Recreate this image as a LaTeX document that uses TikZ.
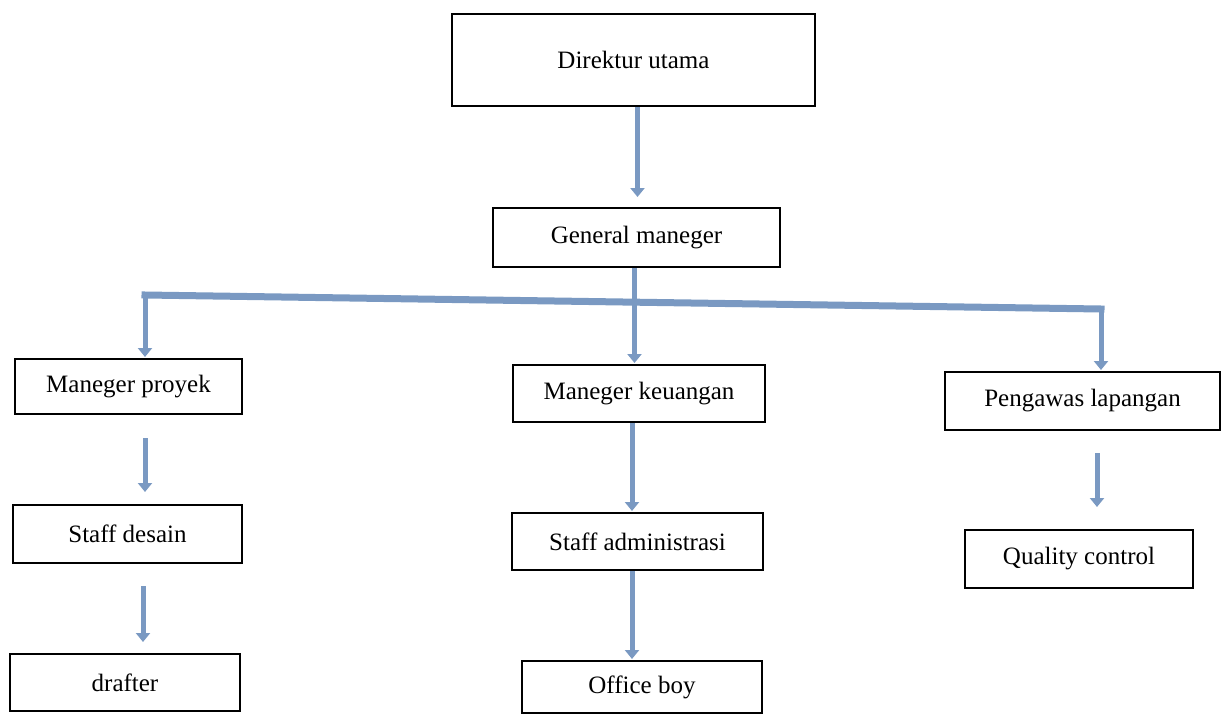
\documentclass[tikz,border=0pt]{standalone}
\usepackage{fontspec}
\setmainfont{Liberation Serif}
\usetikzlibrary{arrows.meta}
\definecolor{arrblue}{RGB}{122,153,194}
\begin{document}
\begin{tikzpicture}[x=1pt,y=-1pt,
  box/.style={draw=black, line width=2pt, fill=white, inner sep=0pt,
    font=\fontsize{25}{30}\selectfont},
  arr/.style={draw=arrblue, line width=5pt, -{Triangle[width=14pt,length=9pt]}},
  bar/.style={draw=arrblue, line width=7pt, line cap=rect}]
\useasboundingbox (0,0) rectangle (1227,715);

\node[box, minimum width=363pt, minimum height=92pt] (dir) at (633.5,60) {Direktur utama};
\node[box, minimum width=287pt, minimum height=59pt] (gm) at (636.5,237.5) {General maneger};
\node[box, minimum width=227pt, minimum height=55pt] (proyek) at (128.5,386.5) {Maneger proyek};
\node[box, minimum width=252pt, minimum height=57pt] (keu) at (639,393.5) {Maneger keuangan};
\node[box, minimum width=275pt, minimum height=58pt] (peng) at (1082.5,401) {Pengawas lapangan};
\node[box, minimum width=229pt, minimum height=58pt] (desain) at (127.5,534) {Staff desain};
\node[box, minimum width=251pt, minimum height=57pt] (admin) at (637.5,541.5) {Staff administrasi};
\node[box, minimum width=228pt, minimum height=58pt] (qc) at (1079,559) {Quality control};
\node[box, minimum width=230pt, minimum height=57pt] (drafter) at (125,682.5) {drafter};
\node[box, minimum width=240pt, minimum height=52pt] (office) at (642,687) {Office boy};

\coordinate (barL) at (145,295);
\coordinate (barR) at (1101,309);

% top chain
\draw[arr, shorten >=10pt] ([xshift=4pt]dir.south) -- ([xshift=4pt]dir.south |- gm.north);
\draw[bar] (barL) -- (barR);
\draw[arr, shorten >=1pt] ([xshift=-2pt]gm.south) -- ([xshift=-2pt]gm.south |- keu.north);
\draw[arr, shorten >=1pt] (barL) -- (barL |- proyek.north);
\draw[arr, shorten >=1pt] (barR) -- (barR |- peng.north);

% left column
\draw[arr, shorten <=23pt, shorten >=12pt] ([xshift=16.5pt]proyek.south) -- ([xshift=16.5pt]proyek.south |- desain.north);
\draw[arr, shorten <=22pt, shorten >=11pt] ([xshift=15.5pt]desain.south) -- ([xshift=15.5pt]desain.south |- drafter.north);

% middle column
\draw[arr, shorten >=1pt] ([xshift=-7pt]keu.south) -- ([xshift=-7pt]keu.south |- admin.north);
\draw[arr, shorten >=1pt] ([xshift=-5.5pt]admin.south) -- ([xshift=-5.5pt]admin.south |- office.north);

% right column
\draw[arr, shorten <=22pt, shorten >=22pt] ([xshift=14.5pt]peng.south) -- ([xshift=14.5pt]peng.south |- qc.north);
\end{tikzpicture}
\end{document}
